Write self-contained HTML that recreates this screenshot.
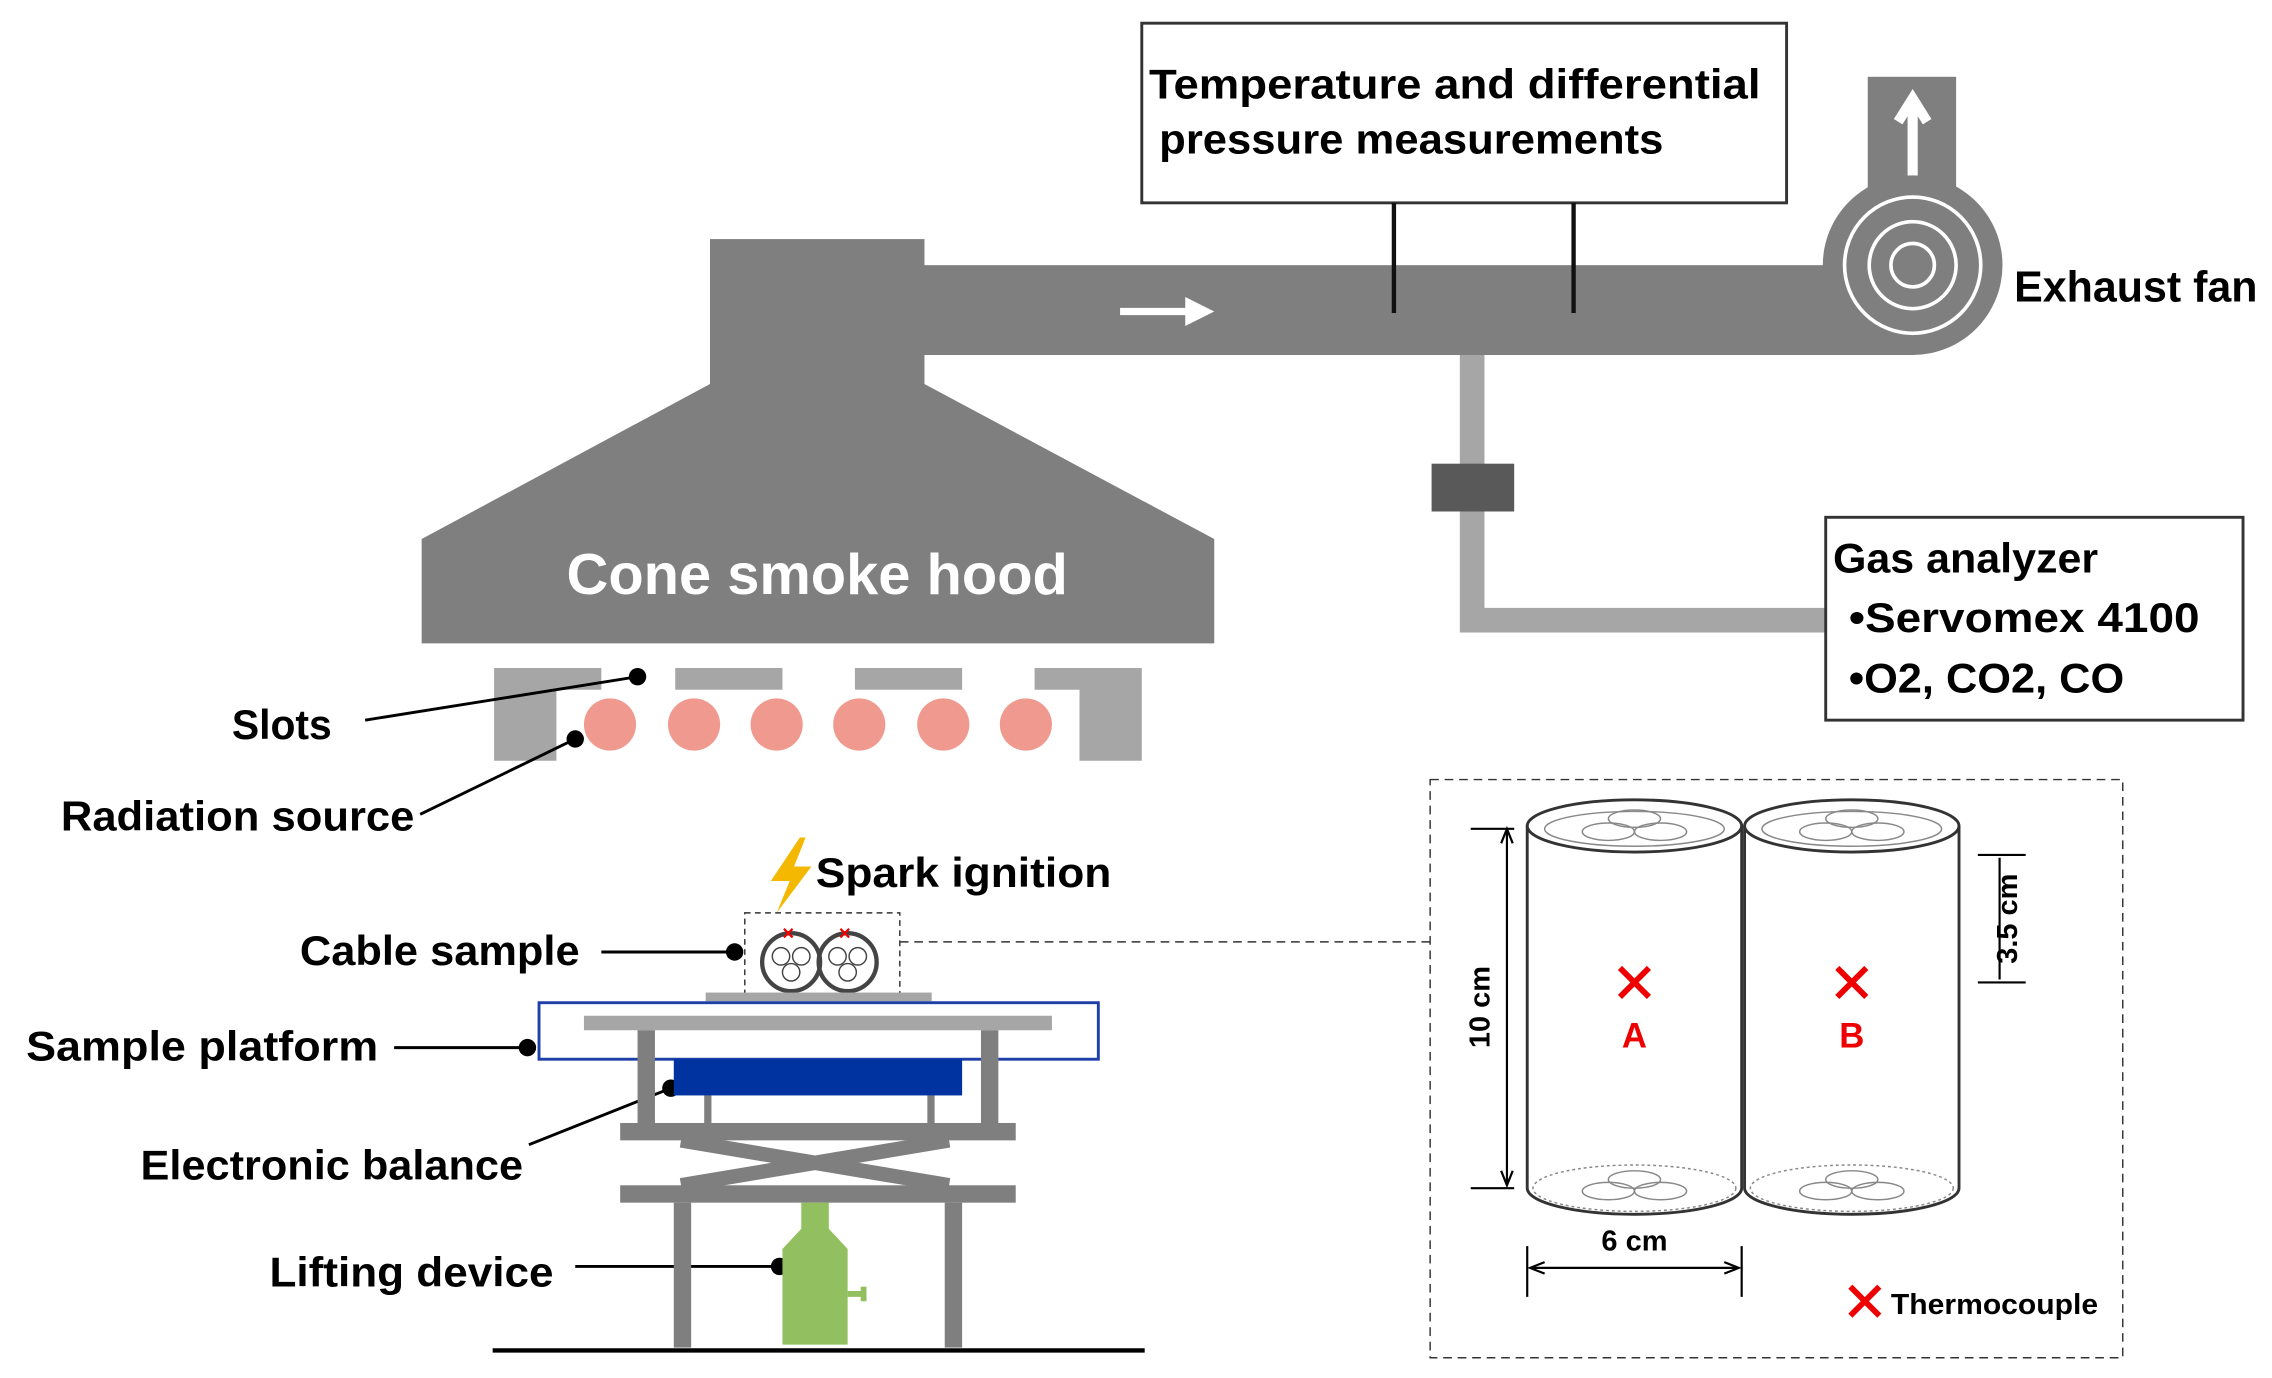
<!DOCTYPE html>
<html><head><meta charset="utf-8"><style>html,body{margin:0;padding:0;background:#fff}svg{display:block}text{font-family:"Liberation Sans",sans-serif;font-weight:bold}</style></head><body>
<svg width="2272" height="1378" viewBox="0 0 1568 951" preserveAspectRatio="none" xmlns="http://www.w3.org/2000/svg">
<rect width="1568" height="951" fill="#fff"/>
<rect x="788" y="16" width="445" height="124" fill="#fff" stroke="#333" stroke-width="2"/>
<text x="793" y="68" font-size="29" textLength="422" lengthAdjust="spacingAndGlyphs">Temperature and differential</text>
<text x="800" y="106" font-size="29" textLength="348" lengthAdjust="spacingAndGlyphs">pressure measurements</text>
<rect x="1289" y="53" width="61" height="130" fill="#7f7f7f"/>
<path d="M1320 122 V72 M1310 84 L1320 68 L1330 84" stroke="#fff" stroke-width="7" fill="none"/>
<rect x="490" y="183" width="830" height="62" fill="#7f7f7f"/>
<circle cx="1320" cy="183" r="62" fill="#7f7f7f"/>
<circle cx="1320" cy="183" r="47" fill="none" stroke="#fff" stroke-width="2.5"/>
<circle cx="1320" cy="183" r="30" fill="none" stroke="#fff" stroke-width="2.5"/>
<circle cx="1320" cy="183" r="15" fill="none" stroke="#fff" stroke-width="2.5"/>
<text x="1390" y="208" font-size="30" textLength="168" lengthAdjust="spacingAndGlyphs">Exhaust fan</text>
<rect x="490" y="165" width="148" height="102" fill="#7f7f7f"/>
<polygon points="490,265 638,265 838,372 838,444 291,444 291,372" fill="#7f7f7f"/>
<text x="391" y="410" font-size="40" fill="#fff" textLength="346" lengthAdjust="spacingAndGlyphs">Cone smoke hood</text>
<path d="M773 215 H825" stroke="#fff" stroke-width="5"/>
<polygon points="838,215 818,205 818,225" fill="#fff"/>
<path d="M962 140 V216 M1086 140 V216" stroke="#111" stroke-width="3"/>
<path d="M1016 245 V428 H1262" stroke="#a6a6a6" stroke-width="17" fill="none"/>
<rect x="988" y="320" width="57" height="33" fill="#595959"/>
<rect x="1260" y="357" width="288" height="140" fill="#fff" stroke="#333" stroke-width="2"/>
<text x="1265" y="395" font-size="29" textLength="183" lengthAdjust="spacingAndGlyphs">Gas analyzer</text>
<text x="1276" y="436" font-size="29" textLength="242" lengthAdjust="spacingAndGlyphs">•Servomex 4100</text>
<text x="1276" y="478" font-size="29" textLength="190" lengthAdjust="spacingAndGlyphs">•O2, CO2, CO</text>
<path d="M341 461 H415 V476 H384 V525 H341 Z" fill="#a6a6a6"/>
<rect x="466" y="461" width="74" height="15" fill="#a6a6a6"/>
<rect x="590" y="461" width="74" height="15" fill="#a6a6a6"/>
<path d="M714 461 H788 V525 H745 V476 H714 Z" fill="#a6a6a6"/>
<g fill="#f0998f"><circle cx="421" cy="500" r="18"/><circle cx="479" cy="500" r="18"/><circle cx="536" cy="500" r="18"/><circle cx="593" cy="500" r="18"/><circle cx="651" cy="500" r="18"/><circle cx="708" cy="500" r="18"/></g>
<g stroke="#000" stroke-width="2"><path d="M252 497 L440 467"/><path d="M290 562 L397 510"/><path d="M415 657 H507"/><path d="M272 723 H364"/><path d="M365 790 L463 751"/><path d="M397 874 H538"/></g>
<g fill="#000"><circle cx="440" cy="467" r="6"/><circle cx="397" cy="510" r="6"/><circle cx="507" cy="657" r="6"/><circle cx="364" cy="723" r="6"/><circle cx="463" cy="751" r="6"/><circle cx="538" cy="874" r="6"/></g>
<g font-size="29" lengthAdjust="spacingAndGlyphs">
<text x="160" y="510" textLength="69" lengthAdjust="spacingAndGlyphs">Slots</text>
<text x="42" y="573" textLength="244" lengthAdjust="spacingAndGlyphs">Radiation source</text>
<text x="563" y="612" textLength="204" lengthAdjust="spacingAndGlyphs">Spark ignition</text>
<text x="207" y="666" textLength="193" lengthAdjust="spacingAndGlyphs">Cable sample</text>
<text x="18" y="732" textLength="243" lengthAdjust="spacingAndGlyphs">Sample platform</text>
<text x="97" y="814" textLength="264" lengthAdjust="spacingAndGlyphs">Electronic balance</text>
<text x="186" y="888" textLength="196" lengthAdjust="spacingAndGlyphs">Lifting device</text></g>
<polygon points="552,578 532,608 545,608 536,630 560,598 548,598 556,578" fill="#f5b800"/>
<rect x="514" y="630" width="107" height="58" fill="none" stroke="#333" stroke-dasharray="4,3"/>
<path d="M621 650 H988" stroke="#333" stroke-dasharray="6,4"/>
<g fill="none" stroke="#444"><circle cx="546" cy="664" r="20" stroke-width="3"/><circle cx="585" cy="664" r="20" stroke-width="3"/>
<circle cx="539" cy="660" r="6"/><circle cx="553" cy="660" r="6"/><circle cx="546" cy="671" r="6"/><circle cx="578" cy="660" r="6"/><circle cx="592" cy="660" r="6"/><circle cx="585" cy="671" r="6"/></g>
<path d="M541 641 l6 6 M547 641 l-6 6 M580 641 l6 6 M586 641 l-6 6" stroke="#e00" stroke-width="1.5"/>
<rect x="487" y="685" width="156" height="6" fill="#a6a6a6"/>
<rect x="372" y="692" width="386" height="39" fill="none" stroke="#1f3fa8" stroke-width="2"/>
<rect x="403" y="701" width="323" height="10" fill="#a6a6a6"/>
<g fill="#7f7f7f"><rect x="440" y="711" width="12" height="70"/><rect x="677" y="711" width="12" height="70"/>
<rect x="486" y="756" width="5" height="22"/><rect x="640" y="756" width="5" height="22"/>
<rect x="428" y="775" width="273" height="12"/><rect x="428" y="818" width="273" height="12"/>
<rect x="465" y="830" width="12" height="100"/><rect x="652" y="830" width="12" height="100"/></g>
<path d="M470 787 L655 818 M470 818 L655 787" stroke="#7f7f7f" stroke-width="10"/>
<rect x="465" y="731" width="199" height="25" fill="#0033a0"/>
<path d="M553 830 H572 V848 L585 862 V928 H540 V862 L553 848 Z" fill="#92c060"/>
<path d="M585 893 H596 M596 888 V898" stroke="#92c060" stroke-width="4"/>
<path d="M340 932 H790" stroke="#000" stroke-width="3"/>
<rect x="987" y="538" width="478" height="399" fill="none" stroke="#333" stroke-dasharray="6,4"/>
<g fill="#fff" stroke="#333" stroke-width="2">
<path d="M1054 570 V820 A74 18 0 0 0 1202 820 V570"/><ellipse cx="1128" cy="570" rx="74" ry="18"/>
<path d="M1204 570 V820 A74 18 0 0 0 1352 820 V570"/><ellipse cx="1278" cy="570" rx="74" ry="18"/></g>
<g fill="none" stroke="#888" stroke-width="1">
<ellipse cx="1128" cy="572" rx="62" ry="12"/><ellipse cx="1278" cy="572" rx="62" ry="12"/>
<ellipse cx="1110" cy="574" rx="18" ry="6"/><ellipse cx="1146" cy="574" rx="18" ry="6"/><ellipse cx="1128" cy="565" rx="18" ry="6"/>
<ellipse cx="1260" cy="574" rx="18" ry="6"/><ellipse cx="1296" cy="574" rx="18" ry="6"/><ellipse cx="1278" cy="565" rx="18" ry="6"/>
<ellipse cx="1128" cy="820" rx="70" ry="16" stroke-dasharray="2,2"/><ellipse cx="1278" cy="820" rx="70" ry="16" stroke-dasharray="2,2"/>
<ellipse cx="1110" cy="822" rx="18" ry="6"/><ellipse cx="1146" cy="822" rx="18" ry="6"/><ellipse cx="1128" cy="814" rx="18" ry="6"/>
<ellipse cx="1260" cy="822" rx="18" ry="6"/><ellipse cx="1296" cy="822" rx="18" ry="6"/><ellipse cx="1278" cy="814" rx="18" ry="6"/></g>
<g stroke="#000" stroke-width="1.5" fill="none">
<path d="M1015 572 H1045 M1015 820 H1045 M1040 574 V818"/><path d="M1036 582 L1040 572 L1044 582 M1036 808 L1040 818 L1044 808"/>
<path d="M1365 590 H1398 M1365 678 H1398 M1380 592 V676"/>
<path d="M1054 860 V895 M1202 860 V895 M1056 875 H1200 M1066 871 L1056 875 L1066 879 M1190 871 L1200 875 L1190 879"/></g>
<text x="1028" y="695" font-size="20" transform="rotate(-90 1028 695)" text-anchor="middle">10 cm</text>
<text x="1392" y="634" font-size="20" transform="rotate(-90 1392 634)" text-anchor="middle">3.5 cm</text>
<text x="1128" y="863" font-size="20" text-anchor="middle">6 cm</text>
<path d="M1118 668 l20 20 M1138 668 l-20 20 M1268 668 l20 20 M1288 668 l-20 20 M1277 888 l20 20 M1297 888 l-20 20" stroke="#e00" stroke-width="4"/>
<text x="1128" y="723" font-size="24" fill="#e00" text-anchor="middle">A</text>
<text x="1278" y="723" font-size="24" fill="#e00" text-anchor="middle">B</text>
<text x="1305" y="907" font-size="20" textLength="143" lengthAdjust="spacingAndGlyphs">Thermocouple</text>
</svg>
</body></html>
